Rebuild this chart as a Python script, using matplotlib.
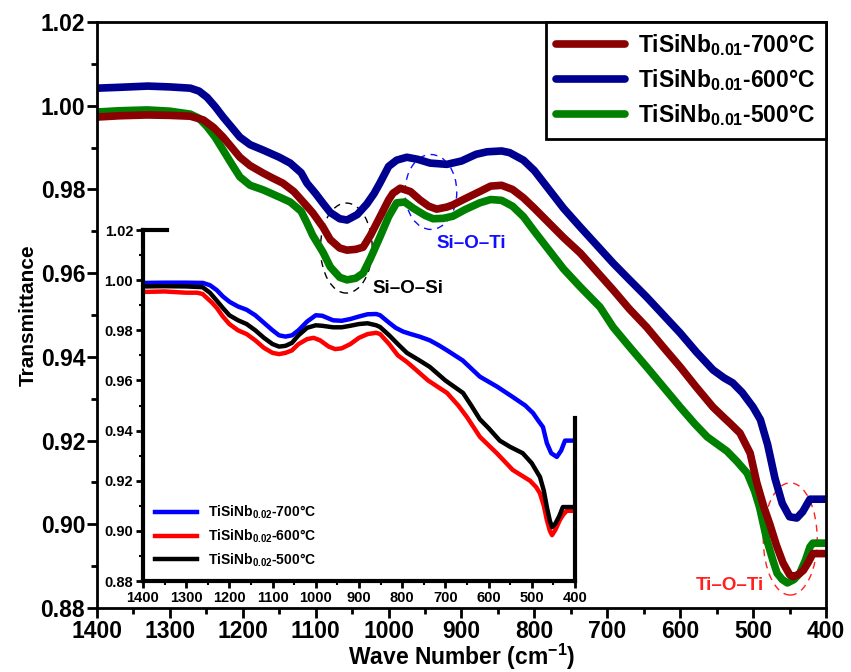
import numpy as np
import matplotlib
matplotlib.use('Agg')
import matplotlib.pyplot as plt
from matplotlib.patches import Ellipse
from matplotlib.ticker import MultipleLocator

plt.rcParams['font.family'] = ['Liberation Sans', 'DejaVu Sans']
plt.rcParams['font.weight'] = 'bold'
plt.rcParams['axes.labelweight'] = 'bold'
plt.rcParams['mathtext.fontset'] = 'custom'
plt.rcParams['mathtext.rm'] = 'Liberation Sans:bold'
plt.rcParams['mathtext.it'] = 'Liberation Sans:bold'
plt.rcParams['mathtext.bf'] = 'Liberation Sans:bold'

# ---- main plot: TiSiNb0.01 ----
w_600 = [1400, 1370, 1330, 1300, 1272, 1260, 1249, 1238, 1227, 1215, 1204, 1190, 1172, 1150,
         1135, 1120, 1112, 1100, 1090, 1080, 1067, 1057, 1043, 1030, 1020, 1012, 1000, 989,
         975, 960, 943, 920, 900, 880, 865, 845, 834, 815, 800, 780, 760, 737, 715, 692, 670,
         646, 623, 600, 578, 555, 540, 528, 515, 500, 490, 480, 470, 460, 450, 440, 432, 422,
         415, 400]
t_600 = [1.0042, 1.0044, 1.0047, 1.0045, 1.0042, 1.0035, 1.0020, 0.9998, 0.9973, 0.9948,
         0.9925, 0.9907, 0.9894, 0.9877, 0.9863, 0.9840, 0.9815, 0.9790, 0.9767, 0.9745,
         0.9730, 0.9727, 0.9740, 0.9765, 0.9790, 0.9815, 0.9855, 0.9870, 0.9877, 0.9872,
         0.9863, 0.9860, 0.9868, 0.9884, 0.9890, 0.9892, 0.9888, 0.9870, 0.9845, 0.9800,
         0.9755, 0.9710, 0.9668, 0.9624, 0.9585, 0.9543, 0.9500, 0.9457, 0.9412, 0.9369,
         0.9350, 0.9338, 0.9315, 0.9280, 0.9250, 0.9190, 0.9110, 0.9050, 0.9018, 0.9015,
         0.9030, 0.9060, 0.9060, 0.9060]

w_700 = [1400, 1370, 1331, 1300, 1272, 1254, 1240, 1227, 1215, 1204, 1190, 1172, 1160, 1145,
         1130, 1112, 1104, 1090, 1080, 1067, 1057, 1045, 1035, 1025, 1012, 1000, 994, 984,
         970, 957, 945, 934, 920, 912, 895, 875, 860, 845, 830, 815, 800, 780, 760, 737, 715,
         692, 670, 646, 623, 600, 578, 555, 540, 532, 518, 504, 495, 485, 477, 468, 459, 450,
         445, 438, 431, 424, 418, 400]
t_700 = [0.9973, 0.9976, 0.9978, 0.9977, 0.9975, 0.9966, 0.9948, 0.9925, 0.9900, 0.9877,
         0.9857, 0.9839, 0.9828, 0.9815, 0.9795, 0.9760, 0.9744, 0.9710, 0.9680, 0.9660,
         0.9655, 0.9657, 0.9662, 0.9690, 0.9734, 0.9775, 0.9791, 0.9803, 0.9795, 0.9775,
         0.9760, 0.9753, 0.9758, 0.9763, 0.9778, 0.9795, 0.9808, 0.9810, 0.9800, 0.9780,
         0.9755, 0.9720, 0.9685, 0.9648, 0.9605, 0.9560, 0.9515, 0.9471, 0.9423, 0.9376,
         0.9328, 0.9280, 0.9255, 0.9242, 0.9218, 0.9170, 0.9100, 0.9040, 0.9000, 0.8950,
         0.8908, 0.8880, 0.8875, 0.8880, 0.8890, 0.8910, 0.8930, 0.8930]

w_500 = [1400, 1370, 1331, 1300, 1272, 1260, 1249, 1238, 1227, 1215, 1204, 1190, 1172, 1150,
         1135, 1120, 1112, 1104, 1090, 1080, 1067, 1057, 1045, 1035, 1025, 1012, 1000, 989,
         978, 966, 950, 939, 925, 912, 895, 875, 860, 845, 830, 815, 800, 780, 760, 737, 710,
         692, 670, 646, 623, 600, 580, 563, 548, 536, 522, 508, 498, 491, 481, 473, 467, 460,
         453, 444, 436, 428, 422, 418, 400]
t_500 = [0.9985, 0.9988, 0.9990, 0.9987, 0.9980, 0.9970, 0.9950, 0.9925, 0.9894, 0.9860,
         0.9830, 0.9810, 0.9799, 0.9782, 0.9770, 0.9748, 0.9720, 0.9690, 0.9650, 0.9615,
         0.9590, 0.9584, 0.9588, 0.9600, 0.9635, 0.9686, 0.9735, 0.9768, 0.9770, 0.9755,
         0.9738, 0.9730, 0.9731, 0.9736, 0.9752, 0.9768, 0.9776, 0.9774, 0.9760, 0.9735,
         0.9700, 0.9655, 0.9610, 0.9567, 0.9519, 0.9471, 0.9425, 0.9376, 0.9328, 0.9280,
         0.9240, 0.9209, 0.9190, 0.9175, 0.9150, 0.9122, 0.9080, 0.9040, 0.8962, 0.8915,
         0.8883, 0.8868, 0.8860, 0.8868, 0.8883, 0.8915, 0.8946, 0.8955, 0.8955]

# ---- inset: TiSiNb0.02 ----
wi_700 = [1400, 1350, 1300, 1261, 1245, 1229, 1215, 1199, 1180, 1160, 1140, 1120, 1100, 1085,
          1070, 1055, 1040, 1020, 1000, 985, 960, 940, 920, 900, 880, 860, 851, 830, 815, 798,
          780, 760, 736, 715, 696, 660, 620, 580, 544, 515, 497, 485, 474, 465, 455, 442, 432,
          423, 400]
ti_700 = [0.9989, 0.9990, 0.9990, 0.9989, 0.9980, 0.9960, 0.9935, 0.9913, 0.9895, 0.9882,
          0.9860, 0.9830, 0.9800, 0.9780, 0.9775, 0.9780, 0.9800, 0.9835, 0.9860, 0.9858,
          0.9840, 0.9838, 0.9845, 0.9855, 0.9864, 0.9865, 0.9860, 0.9830, 0.9810, 0.9795,
          0.9785, 0.9775, 0.9760, 0.9740, 0.9720, 0.9680, 0.9615, 0.9575, 0.9534, 0.9500,
          0.9470, 0.9440, 0.9414, 0.9350, 0.9310, 0.9295, 0.9320, 0.9360, 0.9360]

wi_500 = [1400, 1350, 1300, 1262, 1245, 1230, 1215, 1200, 1180, 1160, 1140, 1120, 1100, 1085,
          1070, 1055, 1040, 1020, 1000, 985, 960, 940, 920, 900, 880, 860, 851, 830, 810, 789,
          760, 736, 700, 659, 640, 620, 600, 574, 550, 521, 500, 481, 472, 465, 458, 453, 445,
          436, 428, 400]
ti_500 = [0.9975, 0.9976, 0.9975, 0.9972, 0.9950, 0.9920, 0.9889, 0.9860, 0.9840, 0.9825,
          0.9800, 0.9770, 0.9745, 0.9735, 0.9738, 0.9750, 0.9780, 0.9810, 0.9820, 0.9818,
          0.9812, 0.9812, 0.9818, 0.9825, 0.9828, 0.9820, 0.9813, 0.9780, 0.9745, 0.9710,
          0.9680, 0.9654, 0.9600, 0.9550, 0.9500, 0.9445, 0.9410, 0.9360, 0.9335, 0.9310,
          0.9270, 0.9215, 0.9160, 0.9095, 0.9040, 0.9015, 0.9030, 0.9060, 0.9095, 0.9095]

wi_600 = [1400, 1350, 1300, 1275, 1262, 1252, 1240, 1229, 1215, 1200, 1180, 1160, 1140, 1120,
          1100, 1085, 1070, 1055, 1040, 1020, 1005, 990, 970, 955, 940, 920, 900, 880, 860,
          851, 830, 810, 790, 775, 740, 696, 670, 650, 620, 581, 544, 504, 490, 481, 472, 465,
          458, 453, 445, 435, 427, 419, 400]
ti_600 = [0.9953, 0.9955, 0.9950, 0.9950, 0.9945, 0.9929, 0.9910, 0.9889, 0.9855, 0.9825,
          0.9800, 0.9785, 0.9760, 0.9730, 0.9710, 0.9705, 0.9710, 0.9720, 0.9745, 0.9765,
          0.9770, 0.9760, 0.9735, 0.9725, 0.9728, 0.9745, 0.9770, 0.9785, 0.9790, 0.9785,
          0.9745, 0.9700, 0.9675, 0.9653, 0.9600, 0.9550, 0.9500, 0.9454, 0.9375, 0.9310,
          0.9243, 0.9200, 0.9175, 0.9150, 0.9100, 0.9043, 0.9000, 0.8983, 0.9005, 0.9043,
          0.9065, 0.9080, 0.9080]

main_labels = [r'TiSiNb$_{0.01}$-700°C', r'TiSiNb$_{0.01}$-600°C', r'TiSiNb$_{0.01}$-500°C']
inset_labels = [r'TiSiNb$_{0.02}$-700°C', r'TiSiNb$_{0.02}$-600°C', r'TiSiNb$_{0.02}$-500°C']

fig = plt.figure(figsize=(8.51, 6.72), dpi=100)
ax = fig.add_axes([0.114, 0.0952, 0.8566, 0.872])

l5, = ax.plot(w_500, t_500, color='#008000', lw=5.5, label=main_labels[2], solid_capstyle='round')
l6, = ax.plot(w_600, t_600, color='#000090', lw=5.5, label=main_labels[1], solid_capstyle='round')
l7, = ax.plot(w_700, t_700, color='#8B0000', lw=5.5, label=main_labels[0], solid_capstyle='round')

ax.set_xlim(1400, 400)
ax.set_ylim(0.88, 1.02)
ax.xaxis.set_major_locator(MultipleLocator(100))
ax.xaxis.set_minor_locator(MultipleLocator(50))
ax.yaxis.set_major_locator(MultipleLocator(0.02))
ax.yaxis.set_minor_locator(MultipleLocator(0.01))
ax.yaxis.set_major_formatter(plt.FormatStrFormatter('%.2f'))
ax.tick_params(which='major', direction='out', length=7, width=2, labelsize=16.5, pad=1.5)
ax.tick_params(which='minor', direction='out', length=4, width=2)
for s in ax.spines.values():
    s.set_linewidth(2)
ax.set_xlabel('Wave Number (cm$^{-1}$)', fontsize=16.5, labelpad=-1)
ax.set_ylabel('Transmittance', fontsize=15, labelpad=2)

leg = ax.legend(handles=[l7, l6, l5], loc='upper right', fontsize=16.5, frameon=True,
                fancybox=False, edgecolor='black', framealpha=1, borderaxespad=0,
                handlelength=3.0, handletextpad=0.6, labelspacing=0.4, borderpad=0.45)
leg.get_frame().set_linewidth(2)

# dashed ellipses and band labels
ax.add_patch(Ellipse((1058, 0.966), 71, 0.0215, fill=False, ec='black', lw=1, ls=(0, (5, 4))))
ax.add_patch(Ellipse((942, 0.9794), 71, 0.0179, fill=False, ec='#1010ff', lw=1, ls=(0, (5, 4))))
ax.add_patch(Ellipse((449, 0.8965), 74, 0.0268, fill=False, ec='#ff2020', lw=1, ls=(0, (5, 4))))
ax.text(973, 0.9564, 'Si–O–Si', color='black', fontsize=13.5, ha='center', va='center')
ax.text(887, 0.9672, 'Si–O–Ti', color='#1010ff', fontsize=13.5, ha='center', va='center')
ax.text(532, 0.8855, 'Ti–O–Ti', color='#ff2020', fontsize=13.5, ha='center', va='center')

# inset
axi = fig.add_axes([0.168, 0.1354, 0.5076, 0.5223])
axi.patch.set_alpha(0)
axi.plot(wi_700, ti_700, color='#0000ff', lw=3.2, label=inset_labels[0])
axi.plot(wi_600, ti_600, color='#ff0000', lw=3.2, label=inset_labels[1])
axi.plot(wi_500, ti_500, color='black', lw=3.2, label=inset_labels[2])
axi.set_xlim(1400, 400)
axi.set_ylim(0.88, 1.02)
axi.xaxis.set_major_locator(MultipleLocator(100))
axi.xaxis.set_minor_locator(MultipleLocator(50))
axi.yaxis.set_major_locator(MultipleLocator(0.02))
axi.yaxis.set_minor_locator(MultipleLocator(0.01))
axi.yaxis.set_major_formatter(plt.FormatStrFormatter('%.2f'))
axi.tick_params(which='major', direction='out', length=5, width=2, labelsize=10.5, pad=2)
axi.tick_params(which='minor', direction='out', length=3, width=1.5)
for s in axi.spines.values():
    s.set_linewidth(3)
axi.spines['top'].set_bounds(1400, 1345)
axi.spines['right'].set_bounds(0.88, 0.945)
axi.legend(loc='lower left', fontsize=10, frameon=False, handlelength=3.0,
           labelspacing=0.45, borderaxespad=0.5)

fig.savefig('out.png', dpi=100)
